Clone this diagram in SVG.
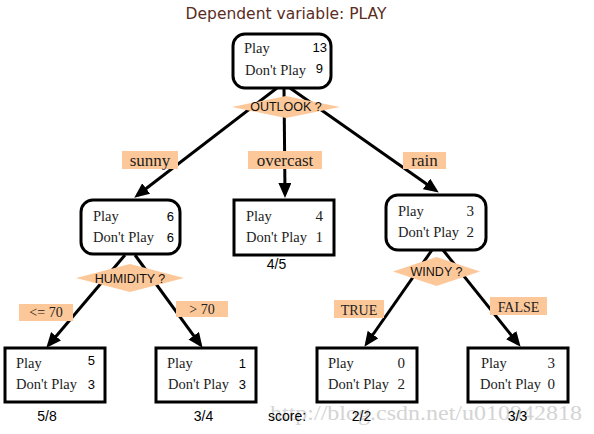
<svg xmlns="http://www.w3.org/2000/svg" width="594" height="434" viewBox="0 0 594 434">
<style>
.box{fill:#fff;stroke:#000;stroke-width:3}
.dia{fill:#fcc899;stroke:none}
.lab{fill:#fcc899}
.edge{stroke:#000;stroke-width:3;fill:none;marker-end:url(#arr)}
.t{font-family:"Liberation Serif",serif;font-size:14.5px;fill:#222}
.n{font-family:"Liberation Sans",sans-serif;font-size:13px;fill:#000}
.ns{font-family:"Liberation Serif",serif;font-size:15px;fill:#222}
.el{font-family:"Liberation Serif",serif;font-size:17px;fill:#222;text-anchor:middle}
.es{font-family:"Liberation Serif",serif;font-size:14px;fill:#222;text-anchor:middle}
.q{font-family:"Liberation Sans",sans-serif;font-size:12.5px;fill:#111;text-anchor:middle}
.sc{font-family:"Liberation Sans",sans-serif;font-size:14px;fill:#000}
</style>
<defs>
<marker id="arr" markerUnits="userSpaceOnUse" markerWidth="15" markerHeight="13" refX="11" refY="6.5" orient="auto" viewBox="0 0 15 13">
<path d="M0,0 L15,6.5 L0,13 z" fill="#000"/>
</marker>
</defs>
<text x="286" y="18.5" text-anchor="middle" style="font-family:'DejaVu Sans',sans-serif;font-size:15.5px;fill:#5a2d1e">Dependent variable: PLAY</text>
<g id="connectors">
<line class="edge" x1="277" y1="88" x2="137.4" y2="195.2"/>
<line class="edge" x1="284" y1="88" x2="285" y2="194"/>
<line class="edge" x1="290" y1="88" x2="435.5" y2="190.3"/>
<line class="edge" x1="125" y1="255" x2="48.9" y2="344.7"/>
<line class="edge" x1="135" y1="255" x2="200.2" y2="344.6"/>
<line class="edge" x1="432" y1="250" x2="366.7" y2="343.5"/>
<line class="edge" x1="443" y1="250" x2="518.1" y2="343.7"/>
<rect class="lab" x="122" y="151" width="56" height="18"/>
<text class="el" x="150" y="166">sunny</text>
<rect class="lab" x="248" y="151" width="74" height="18"/>
<text class="el" x="285" y="166">overcast</text>
<rect class="lab" x="403" y="152" width="43" height="17"/>
<text class="el" x="424.5" y="165.5">rain</text>
<rect class="lab" x="19" y="304" width="54" height="17"/>
<text class="es" x="46" y="317">&lt;= 70</text>
<rect class="lab" x="176" y="301" width="52" height="16"/>
<text class="es" x="202" y="313.5">&gt; 70</text>
<rect class="lab" x="334" y="300" width="50" height="18"/>
<text class="es" x="359" y="315">TRUE</text>
<rect class="lab" x="490" y="297" width="57" height="18"/>
<text class="es" x="518.5" y="311.5">FALSE</text>
</g>
<g id="root">
<rect class="box" x="233" y="34" width="98" height="54" rx="12"/>
<text class="t" x="244" y="53">Play</text>
<text class="n" x="327" y="52" text-anchor="end">13</text>
<text class="t" x="245" y="75">Don't Play</text>
<text class="n" x="323" y="73" text-anchor="end">9</text>
<polygon class="dia" points="232,107 286,96 340,107 286,118"/>
<text class="q" x="286" y="111">OUTLOOK ?</text>
</g>
<g id="sunny">
<rect class="box" x="81" y="200" width="99" height="54" rx="12"/>
<text class="t" x="93" y="221">Play</text>
<text class="n" x="174" y="221" text-anchor="end">6</text>
<text class="t" x="93" y="242">Don't Play</text>
<text class="n" x="174" y="242" text-anchor="end">6</text>
<polygon class="dia" points="76,278 130,264 184,278 130,292"/>
<text class="q" x="130" y="282.5">HUMIDITY ?</text>
</g>
<g id="overcast">
<rect class="box" x="234" y="200" width="100" height="55"/>
<text class="t" x="246" y="221">Play</text>
<text class="ns" x="323" y="221" text-anchor="end">4</text>
<text class="t" x="246" y="242">Don't Play</text>
<text class="ns" x="323" y="242" text-anchor="end">1</text>
<text class="sc" x="276.5" y="269" text-anchor="middle">4/5</text>
</g>
<g id="rain">
<rect class="box" x="386" y="195" width="100" height="55" rx="12"/>
<text class="t" x="398" y="216">Play</text>
<text class="ns" x="474" y="216" text-anchor="end">3</text>
<text class="t" x="398" y="237">Don't Play</text>
<text class="ns" x="474" y="237" text-anchor="end">2</text>
<polygon class="dia" points="393,271.5 436.5,257 480,271.5 436.5,286"/>
<text class="q" x="436.5" y="276">WINDY ?</text>
</g>
<text x="426" y="420" text-anchor="middle" textLength="312" lengthAdjust="spacingAndGlyphs" style="font-family:'Liberation Serif',serif;font-size:21px;fill:#d4d4d4">http://blog.csdn.net/u010942818</text>
<g id="leaf1">
<rect class="box" x="5" y="348" width="100" height="54"/>
<text class="t" x="16" y="368">Play</text>
<text class="n" x="95" y="365" text-anchor="end">5</text>
<text class="t" x="16" y="389">Don't Play</text>
<text class="n" x="95" y="389" text-anchor="end">3</text>
<text class="sc" x="47" y="421" text-anchor="middle">5/8</text>
</g>
<g id="leaf2">
<rect class="box" x="156" y="348" width="100" height="54"/>
<text class="t" x="167" y="368">Play</text>
<text class="n" x="246" y="368" text-anchor="end">1</text>
<text class="t" x="168" y="389">Don't Play</text>
<text class="n" x="246" y="389" text-anchor="end">3</text>
<text class="sc" x="203.5" y="421" text-anchor="middle">3/4</text>
</g>
<text class="sc" x="268" y="421">score:</text>
<g id="leaf3">
<rect class="box" x="317" y="348" width="100" height="54"/>
<text class="t" x="328" y="368">Play</text>
<text class="ns" x="405" y="368" text-anchor="end">0</text>
<text class="t" x="328" y="389">Don't Play</text>
<text class="ns" x="405" y="389" text-anchor="end">2</text>
<text class="sc" x="361.5" y="421" text-anchor="middle">2/2</text>
</g>
<g id="leaf4">
<rect class="box" x="468" y="348" width="100" height="54"/>
<text class="t" x="481" y="368">Play</text>
<text class="ns" x="555" y="368" text-anchor="end">3</text>
<text class="t" x="480" y="389">Don't Play</text>
<text class="ns" x="555" y="389" text-anchor="end">0</text>
<text class="sc" x="517.5" y="421" text-anchor="middle">3/3</text>
</g>
</svg>
